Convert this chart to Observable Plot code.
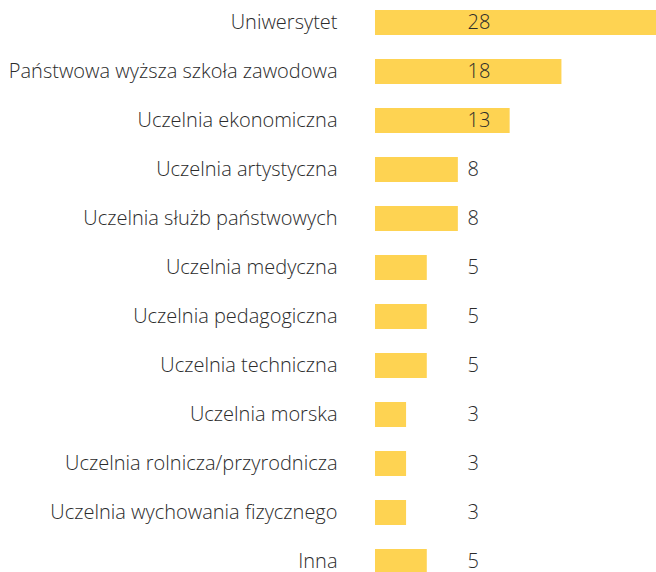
<!DOCTYPE html>
<html>
<head>
<meta charset="utf-8">
<script src="https://cdn.jsdelivr.net/npm/d3@7"></script>
<script src="https://cdn.jsdelivr.net/npm/@observablehq/plot@0.6"></script>
<style>
  html, body { margin: 0; padding: 0; background: #fff; overflow: hidden; }
  #chart svg { overflow: hidden; }
</style>
</head>
<body>
<div id="chart"></div>
<script>
const categories = [
  "Uniwersytet",
  "Państwowa wyższa szkoła zawodowa",
  "Uczelnia ekonomiczna",
  "Uczelnia artystyczna",
  "Uczelnia służb państwowych",
  "Uczelnia medyczna",
  "Uczelnia pedagogiczna",
  "Uczelnia techniczna",
  "Uczelnia morska",
  "Uczelnia rolnicza/przyrodnicza",
  "Uczelnia wychowania fizycznego",
  "Inna"
];
const values = [28, 18, 13, 8, 8, 5, 5, 5, 3, 3, 3, 5];

const data = categories.map((c, i) => ({category: c, value: values[i]}));

const chart = Plot.plot({
  width: 656,
  height: 572,
  marginLeft: 0,
  marginRight: 0,
  marginTop: 0,
  marginBottom: 0,
  style: {fontFamily: "'Open Sans', sans-serif", fontSize: "20px", color: "#333", background: "#fff"},
  x: {domain: [0, 28], range: [375, 665], axis: null},
  y: {domain: categories, range: [-2, 586], paddingInner: 0.5, paddingOuter: 0.25, axis: null},
  marks: [
    Plot.barX(data, {x: "value", y: "category", fill: "#FED352"}),
    Plot.text(data, {x: 0, y: "category", text: "category", textAnchor: "end", dx: -38, fill: "#2b2b2b", fontSize: 20, fontWeight: 300}),
    Plot.text(data, {x: 0, y: "category", text: d => String(d.value), textAnchor: "start", dx: 92, fill: "#2b2b2b", fontSize: 20, fontWeight: 300})
  ]
});
document.getElementById("chart").appendChild(chart);
</script>
</body>
</html>
